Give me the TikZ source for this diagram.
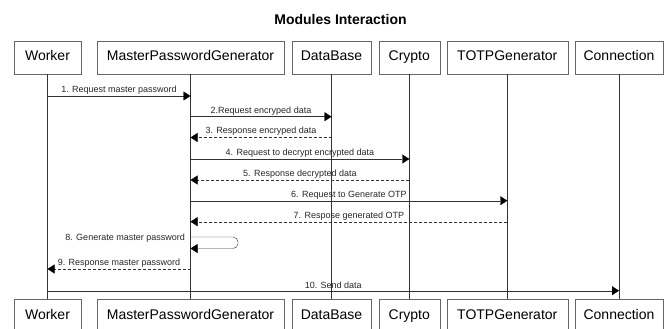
\documentclass[tikz,border=0pt]{standalone}
\usepackage{fontspec}
\setmainfont{Liberation Sans}
\usetikzlibrary{arrows.meta}

\begin{document}
\begin{tikzpicture}[x=1pt, y=-1pt, font=\fontsize{14}{16}\selectfont,
  box/.style = {draw=black!60, minimum height=33pt, inner sep=0pt, text height=10pt, text depth=3pt},
  life/.style = {draw=black!80},
  msg/.style = {draw=black!80, -{Triangle[length=7pt,width=9pt,fill=black,color=black]}},
  ret/.style = {msg, dash pattern=on 3pt off 2pt},
  lbl/.style = {font=\fontsize{9}{10}\selectfont, text=black!85, above, inner sep=1.5pt}]
\useasboundingbox (0,0) rectangle (670,329);
\node[font=\bfseries\fontsize{14}{16}\selectfont] (title) at (340.5,19) {Modules Interaction};
\node[box, minimum width=67pt] (w1) at (47.5,57.5) {Worker};
\node[box, minimum width=187pt] (m1) at (190.5,57.5) {MasterPasswordGenerator};
\node[box, minimum width=79pt] (d1) at (331.5,57.5) {DataBase};
\node[box, minimum width=61pt] (c1) at (409.3,57.5) {Crypto};
\node[box, minimum width=121pt] (t1) at (507.3,57.5) {TOTPGenerator};
\node[box, minimum width=88pt] (n1) at (619,57.5) {Connection};
\node[box, minimum width=67pt] (w2) at (47.5,315.5) {Worker};
\node[box, minimum width=187pt] (m2) at (190.5,315.5) {MasterPasswordGenerator};
\node[box, minimum width=79pt] (d2) at (331.5,315.5) {DataBase};
\node[box, minimum width=61pt] (c2) at (409.3,315.5) {Crypto};
\node[box, minimum width=121pt] (t2) at (507.3,315.5) {TOTPGenerator};
\node[box, minimum width=88pt] (n2) at (619,315.5) {Connection};
\foreach \a/\b in {w1/w2, m1/m2, d1/d2, c1/c2, t1/t2, n1/n2}
  \draw[life] (\a) -- (\b);
\draw[msg] (w1 |- 0,96) -- node[lbl] {1. Request master password} (m1 |- 0,96);
\draw[msg] (m1 |- 0,116.7) -- node[lbl] {2.Request encryped data} (d1 |- 0,116.7);
\draw[ret] (d1 |- 0,137.5) -- node[lbl] {3. Response encryped data} (m1 |- 0,137.5);
\draw[msg] (m1 |- 0,159) -- node[lbl] {4. Request to decrypt encrypted data} (c1 |- 0,159);
\draw[ret] (c1 |- 0,180) -- node[lbl] {5. Response decrypted data} (m1 |- 0,180);
\draw[msg] (m1 |- 0,200.7) -- node[lbl] {6. Request to Generate OTP} (t1 |- 0,200.7);
\draw[ret] (t1 |- 0,221.7) -- node[lbl] {7. Respose generated OTP} (m1 |- 0,221.7);
\draw[msg, rounded corners=5pt] (m1 |- 0,237) -- (238,237) -- (238,248.5) -- (m1 |- 0,248.5);
\node[lbl, anchor=base east] (gen) at (186.5,240) {8. Generate master password};
\draw[ret] (m1 |- 0,269) -- node[lbl] {9. Response master password} (w1 |- 0,269);
\draw[msg] (w1 |- 0,290.7) -- node[lbl] {10. Send data} (n1 |- 0,290.7);
\end{tikzpicture}
\end{document}
